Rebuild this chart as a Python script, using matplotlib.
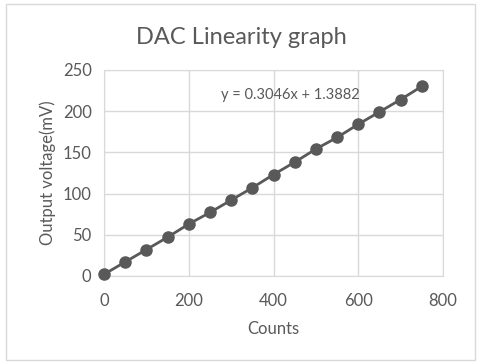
import matplotlib
matplotlib.use("Agg")
import matplotlib.pyplot as plt
from matplotlib.patches import Rectangle

# ── Data ─────────────────────────────────────────────────────────────────────
counts = [0, 50, 100, 150, 200, 250, 300, 350, 400, 450, 500, 550, 600, 650, 700, 750]
voltage_mv = [2, 17, 32, 47, 63, 77, 92, 107, 123, 138, 154, 168, 184, 199, 214, 230]
x_ticks = [0, 200, 400, 600, 800]
y_ticks = [0, 50, 100, 150, 200, 250]
equation = "y = 0.3046x + 1.3882"

TXT = "#595959"
GRID = "#d9d9d9"
plt.rcParams["font.family"] = ["Lato", "DejaVu Sans"]

fig = plt.figure(figsize=(4.82, 3.64), dpi=100)
fig.patch.set_facecolor("white")
fig.patches.append(Rectangle((0.012, 0.01), 0.974, 0.978, transform=fig.transFigure,
                             fill=False, edgecolor="#d9d9d9", linewidth=1))

ax = fig.add_axes([0.216, 0.242, 0.703, 0.566])
ax.plot(counts, voltage_mv, color="#595959", linewidth=2,
        marker="o", markersize=8, markerfacecolor="#595959", markeredgecolor="#595959",
        zorder=3, clip_on=False)

ax.set_xlim(0, 800)
ax.set_ylim(0, 250)
ax.set_xticks(x_ticks)
ax.set_yticks(y_ticks)
ax.grid(True, color=GRID, linewidth=1)
ax.set_axisbelow(True)
for s in ax.spines.values():
    s.set_color(GRID)
ax.tick_params(length=0, colors=TXT, labelsize=12)
ax.tick_params(axis="x", pad=12)
ax.tick_params(axis="y", pad=9)

ax.set_xlabel("Counts", color=TXT, fontsize=12, labelpad=9)
ax.set_ylabel("Output voltage(mV)", color=TXT, fontsize=12, labelpad=5)
ax.text(439, 220, equation, ha="center", va="center", fontsize=10.5, color=TXT)

fig.text(0.5, 0.898, "DAC Linearity graph", ha="center", va="center",
         fontsize=17, color=TXT)

fig.savefig("out.png", dpi=100)
